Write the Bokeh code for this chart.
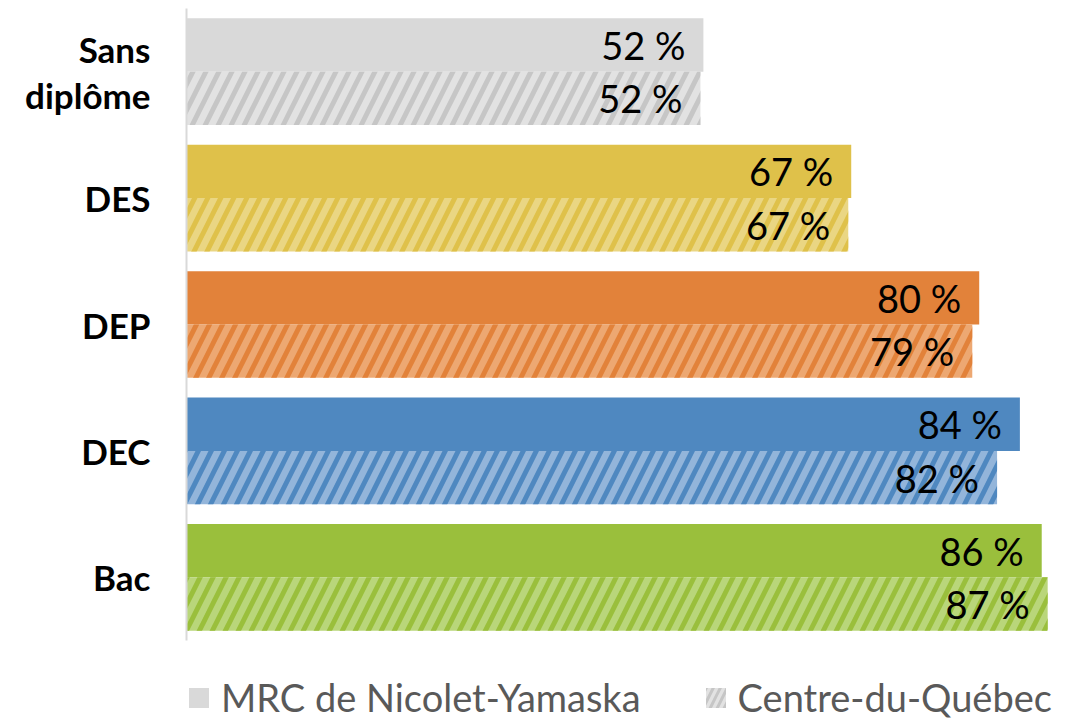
from bokeh.plotting import figure
from bokeh.models import ColumnDataSource, Legend, LegendItem, FixedTicker
from bokeh.transform import dodge
from bokeh.core.properties import value
from bokeh.embed import file_html
from bokeh.resources import INLINE

categories = ["Sans\ndiplôme", "DES", "DEP", "DEC", "Bac"]
mrc_values = [52.1, 67.0, 79.9, 84.0, 86.2]
cdq_values = [51.8, 66.7, 79.2, 81.7, 86.8]
series_names = ["MRC de Nicolet-Yamaska", "Centre-du-Québec"]
main_colors = ["#d9d9d9", "#dfc14a", "#e2823a", "#4f88c0", "#9abf3c"]
light_colors = ["#e2e2e2", "#ead683", "#eda872", "#93b5da", "#b9d67a"]
hatch_colors = ["#c6c6c6", "#dfc14a", "#e2823a", "#4f88c0", "#9abf3c"]

FONT = "Lato"

n = len(categories)
ypos = [n - 1 - i for i in range(n)]  # top to bottom

src = ColumnDataSource(dict(
    y=ypos,
    mrc=mrc_values,
    cdq=cdq_values,
    mrc_lbl=[f"{round(v)} %" for v in mrc_values],
    cdq_lbl=[f"{round(v)} %" for v in cdq_values],
    main=main_colors,
    light=light_colors,
    hatch=hatch_colors,
))

H = 720
p = figure(
    width=1071, height=H,
    y_range=(n - 0.5 - (H - 8) / 126.4, n - 0.5),
    x_range=(0, 89.0),
    output_backend="svg", toolbar_location=None,
    x_axis_location=None,
    min_border_left=186, min_border_right=2, min_border_top=8,
    min_border_bottom=0,
)
p.outline_line_color = None
p.grid.visible = False

off = 0.211
h = 0.422
p.hbar(y=dodge("y", off), right="mrc", left=0, height=h,
       source=src, fill_color="main", line_color=None)
p.hbar(y=dodge("y", -off), right="cdq", left=0, height=h,
       source=src, fill_color="light", line_color=None,
       hatch_pattern="/", hatch_color="hatch", hatch_scale=26, hatch_weight=5)

p.text(x="mrc", y=dodge("y", off), text="mrc_lbl", source=src,
       x_offset=-18, text_align="right", text_baseline="middle",
       text_font=value(FONT), text_font_size="38px", text_color="black")
p.text(x="cdq", y=dodge("y", -off), text="cdq_lbl", source=src,
       x_offset=-18, text_align="right", text_baseline="middle",
       text_font=value(FONT), text_font_size="38px", text_color="black")

ax = p.yaxis[0]
ax.ticker = FixedTicker(ticks=ypos)
ax.major_label_overrides = {y: c for y, c in zip(ypos, categories)}
ax.bounds = (-0.5, n - 0.5)
ax.axis_line_color = "#d9d9d9"
ax.axis_line_width = 2
ax.major_tick_line_color = None
ax.minor_tick_line_color = None
ax.major_label_standoff = 30
ax.major_label_text_font = FONT
ax.major_label_text_font_style = "bold"
ax.major_label_text_font_size = "35px"
ax.major_label_text_color = "black"
ax.major_label_text_line_height = 1.1

# legend proxies (solid gray and hatched gray)
l1 = p.hbar(y=[0], right=[0], left=[0], height=0.0, fill_color="#d9d9d9",
            line_color=None)
l2 = p.hbar(y=[0], right=[0], left=[0], height=0.0, fill_color="#e2e2e2",
            line_color=None, hatch_pattern="/", hatch_color="#c6c6c6",
            hatch_scale=14, hatch_weight=3)
legend = Legend(items=[LegendItem(label=series_names[0], renderers=[l1]),
                       LegendItem(label=series_names[1], renderers=[l2])],
                orientation="horizontal", location=(0, 0),
                label_text_font=FONT, label_text_font_size="38px",
                label_text_color="#595959", glyph_width=25, glyph_height=25,
                label_standoff=10, spacing=62, border_line_color=None,
                background_fill_alpha=0, padding=0, margin=0)
p.add_layout(legend, "center")

open("out.html", "w").write(file_html(p, INLINE))
